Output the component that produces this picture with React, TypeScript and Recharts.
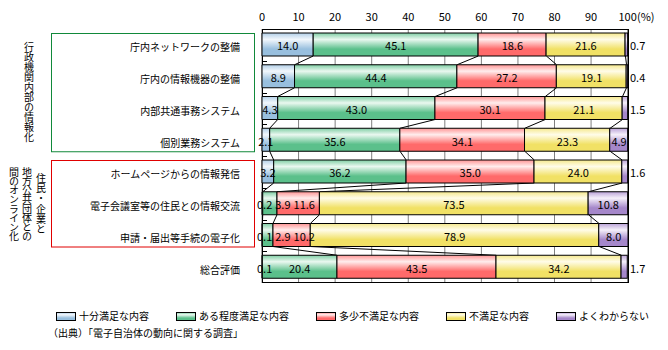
import React from 'react';
import { BarChart, Bar, XAxis, YAxis, CartesianGrid, Customized } from 'recharts';

// ---------- data ----------
const categories = [
  '庁内ネットワークの整備',
  '庁内の情報機器の整備',
  '内部共通事務システム',
  '個別業務システム',
  'ホームページからの情報発信',
  '電子会議室等の住民との情報交流',
  '申請・届出等手続の電子化',
  '総合評価',
];
const seriesNames = ['十分満足な内容', 'ある程度満足な内容', '多少不満足な内容', '不満足な内容', 'よくわからない'];
const fullySatisfied = [14.0, 8.9, 4.3, 2.1, 3.2, 0.2, 0.1, 0.1];
const somewhatSatisfied = [45.1, 44.4, 43.0, 35.6, 36.2, 3.9, 2.9, 20.4];
const slightlyUnsatisfied = [18.6, 27.2, 30.1, 34.1, 35.0, 11.6, 10.2, 43.5];
const unsatisfied = [21.6, 19.1, 21.1, 23.3, 24.0, 73.5, 78.9, 34.2];
const unknown = [0.7, 0.4, 1.5, 4.9, 1.6, 10.8, 8.0, 1.7];
const xTicks = [0, 10, 20, 30, 40, 50, 60, 70, 80, 90, 100];
const groupLabels = [
  { rows: [0, 3], columns: ['行政機関内部の情報化'] },
  { rows: [4, 6], columns: ['住民・企業と', '地方公共団体との', '間のオンライン化'] },
];
const sourceText = '（出典）「電子自治体の動向に関する調査」';

const seriesValues = [fullySatisfied, somewhatSatisfied, slightlyUnsatisfied, unsatisfied, unknown];
const keys = ['s0', 's1', 's2', 's3', 's4'];
const data = categories.map((name, i) => {
  const row: any = { name };
  seriesValues.forEach((arr, k) => (row[keys[k]] = arr[i]));
  return row;
});

// ---------- style / layout ----------
const FONT = "'Noto Sans CJK JP', 'Noto Sans', sans-serif";
const W = 668;
const H = 350;
const MARGIN = { top: 9, right: 40, bottom: 67, left: 12 };
const X_AXIS_H = 20;
const Y_AXIS_W = 250;
const PLOT = {
  x: MARGIN.left + Y_AXIS_W,
  y: MARGIN.top + X_AXIS_H,
  width: W - MARGIN.left - Y_AXIS_W - MARGIN.right,
  height: H - MARGIN.top - X_AXIS_H - MARGIN.bottom,
};
const BAR = 23;
const colors = [
  { top: '#b3d0e8', light: '#f2f7fc', base: '#98bfde' },
  { top: '#7fcea4', light: '#eaf8f0', base: '#5bc08b' },
  { top: '#ff9595', light: '#ffeded', base: '#ff6a6a' },
  { top: '#f5e88c', light: '#fffce9', base: '#f1e165' },
  { top: '#bba3d8', light: '#f5f0fa', base: '#a587ca' },
];
const groupStyle = [
  { color: '#11893a', colX: [29], pitch: [10] },
  { color: '#e00000', colX: [41, 27, 14], pitch: [10.3, 9.2, 9.2] },
];
const BOX_X0 = 51.5;
const BOX_X1 = 254.5;

let _ctx: CanvasRenderingContext2D | null = null;
function textWidth(s: string, size: number) {
  try {
    if (!_ctx) _ctx = document.createElement('canvas').getContext('2d');
    if (_ctx) {
      _ctx.font = `${size}px ${FONT}`;
      return _ctx.measureText(s).width;
    }
  } catch (e) {}
  return s.length * size * 0.55;
}

const N = categories.length;
const BAND = PLOT.height / N;
const X = (v: number) => PLOT.x + (v / 100) * PLOT.width;
const barTop = (i: number) => PLOT.y + i * BAND + Math.floor((BAND - BAR) / 2);
const cum = (i: number, k: number) => {
  let s = 0;
  for (let j = 0; j <= k; j++) s += seriesValues[j][i];
  return s;
};

function rowLabels(i: number) {
  const out: any[] = [];
  let prevRight = -Infinity;
  const yb = barTop(i) + BAR / 2 + 5.8;
  for (let k = 0; k < 5; k++) {
    const v = seriesValues[k][i];
    const txt = v.toFixed(1);
    const w = textWidth(txt, 11);
    const segL = X(k === 0 ? 0 : cum(i, k - 1));
    const segR = X(cum(i, k));
    if (k === 4 && segR - segL < w + 2) {
      out.push(
        <text key={`lb-${i}-${k}`} x={PLOT.x + PLOT.width + 2} y={yb} fontSize={11} fontFamily={FONT} fill="#000">
          {txt}
        </text>
      );
      continue;
    }
    const left = Math.max((segL + segR) / 2 - w / 2, prevRight + 3, PLOT.x - 5);
    prevRight = left + w;
    out.push(
      <text key={`lb-${i}-${k}`} x={left} y={yb} fontSize={11} fontFamily={FONT} fill="#000">
        {txt}
      </text>
    );
  }
  return out;
}

// last series shape: draws its rect, then the row's value labels on top of all bars
const LastBarShape = (props: any) => {
  const { x, y, width, height, fill, payload } = props;
  let idx = typeof props.index === 'number' ? props.index : -1;
  if (idx < 0 && payload) idx = categories.indexOf(payload.name);
  return (
    <g>
      <rect x={x} y={y} width={Math.max(0, width)} height={height} fill={fill} stroke="#000" strokeWidth={1} />
      {idx >= 0 ? rowLabels(idx) : null}
    </g>
  );
};

const TopTick = (props: any) => {
  const { x, y, payload } = props;
  if (payload.value === 100) {
    return (
      <g>
        <text x={x} y={y} textAnchor="middle" fontSize={11} fontFamily={FONT} fill="#000">100</text>
        <text x={x + 9.3} y={y} textAnchor="start" fontSize={11} fontFamily={FONT} fill="#000">(%)</text>
      </g>
    );
  }
  return (
    <text x={x} y={y} textAnchor="middle" fontSize={11} fontFamily={FONT} fill="#000">
      {payload.value}
    </text>
  );
};

const CatTick = (props: any) => {
  const { x, y, payload } = props;
  return (
    <text x={x} y={y + 6.5} textAnchor="end" fontSize={10} fontFamily={FONT} fill="#000">
      {payload.value}
    </text>
  );
};

function Overlay() {
  const pa = PLOT;
  const seriesLines: any[] = [];
  for (let i = 0; i < N - 1; i++) {
    for (let k = 0; k < 4; k++) {
      seriesLines.push(
        <line
          key={`sl-${i}-${k}`}
          x1={X(cum(i, k))}
          y1={barTop(i) + BAR}
          x2={X(cum(i + 1, k))}
          y2={barTop(i + 1)}
          stroke="#000"
          strokeWidth={1}
        />
      );
    }
  }

  const bandTicks: any[] = [];
  for (let k = 1; k < N; k++) {
    const y = Math.round(pa.y + k * BAND) + 0.5;
    bandTicks.push(<line key={`bt-${k}`} x1={pa.x} x2={pa.x + 5} y1={y} y2={y} stroke="#000" />);
  }

  const groups = groupLabels.map((g, gi) => {
    const st = groupStyle[gi];
    const top = barTop(g.rows[0]) + 0.5;
    const bottom = barTop(g.rows[1]) + BAR + 0.5;
    const center = (top + bottom) / 2;
    return (
      <g key={`grp-${gi}`}>
        <rect x={BOX_X0} y={top} width={BOX_X1 - BOX_X0} height={bottom - top} fill="none" stroke={st.color} strokeWidth={1} />
        {g.columns.map((col, ci) => {
          const len = Array.from(col).length;
          const pitch = st.pitch[ci];
          const start = center - (len * pitch) / 2;
          return (
            <text
              key={`gc-${gi}-${ci}`}
              x={st.colX[ci]}
              y={start}
              fontSize={10}
              fontFamily={FONT}
              fill="#000"
              letterSpacing={pitch - 10}
              style={{ writingMode: 'vertical-rl' as any }}
            >
              {col}
            </text>
          );
        })}
      </g>
    );
  });

  const legendItems: any[] = [];
  let lx = 56;
  seriesNames.forEach((name, k) => {
    const tw = textWidth(name, 10);
    legendItems.push(
      <g key={`lg-${k}`}>
        <rect x={lx + 0.5} y={312.5} width={19} height={8} fill={`url(#grad-${k})`} stroke="#000" strokeWidth={1} />
        <text x={lx + 23} y={320.4} fontSize={10} fontFamily={FONT} fill="#000">
          {name}
        </text>
      </g>
    );
    lx += 23 + tw + 27;
  });

  return (
    <g>
      <defs>
        {colors.map((c, k) => (
          <linearGradient key={`g-${k}`} id={`grad-${k}`} x1="0" y1="0" x2="0" y2="1">
            <stop offset="0" stopColor={c.top} />
            <stop offset="0.28" stopColor={c.light} />
            <stop offset="0.7" stopColor={c.base} />
            <stop offset="1" stopColor={c.base} />
          </linearGradient>
        ))}
      </defs>
      {seriesLines}
      <rect x={pa.x + 0.5} y={pa.y + 0.5} width={pa.width} height={pa.height - 1} fill="none" stroke="#000" strokeWidth={1} />
      {bandTicks}
      {groups}
      {legendItems}
      <text x={48} y={337.2} fontSize={10} fontFamily={FONT} fill="#000">
        {sourceText}
      </text>
    </g>
  );
}

export default function App() {
  return (
    <div style={{ position: 'absolute', left: 0, top: 0, width: W, height: H, background: '#fff' }}>
      <BarChart
        width={W}
        height={H}
        data={data}
        layout="vertical"
        margin={MARGIN}
        barSize={BAR}
        style={{ fontFamily: FONT }}
      >
        <CartesianGrid horizontal={false} stroke="#808080" strokeWidth={1} />
        <XAxis
          type="number"
          orientation="top"
          domain={[0, 100]}
          ticks={xTicks}
          interval={0}
          height={X_AXIS_H}
          axisLine={false}
          tickLine={false}
          tick={<TopTick />}
        />
        <YAxis
          type="category"
          dataKey="name"
          width={Y_AXIS_W}
          axisLine={false}
          tickLine={false}
          tickSize={0}
          tickMargin={22}
          interval={0}
          tick={<CatTick />}
        />
        <Customized component={<Overlay />} />
        {keys.map((k, i) => (
          <Bar
            key={k}
            dataKey={k}
            name={seriesNames[i]}
            stackId="a"
            fill={`url(#grad-${i})`}
            stroke="#000"
            strokeWidth={1}
            isAnimationActive={false}
            shape={i === keys.length - 1 ? <LastBarShape /> : undefined}
          />
        ))}
      </BarChart>
    </div>
  );
}
